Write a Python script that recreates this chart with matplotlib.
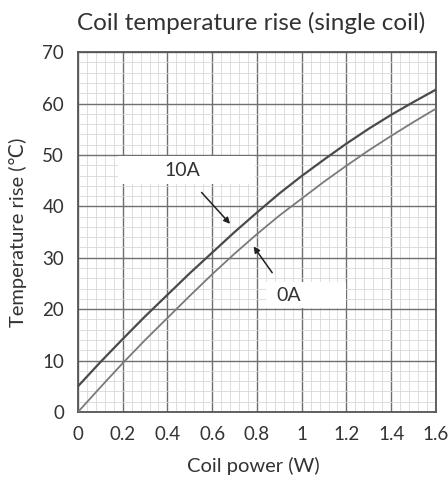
import numpy as np
import matplotlib.pyplot as plt
from matplotlib.patches import Rectangle
from matplotlib.ticker import MultipleLocator

# values
coil_power = [0, 0.1, 0.2, 0.3, 0.4, 0.5, 0.6, 0.7, 0.8, 0.9, 1.0, 1.1, 1.2, 1.3, 1.4, 1.5, 1.6]
rise_10a = [5.0, 9.7, 14.2, 18.6, 22.8, 27.0, 31.0, 35.0, 38.8, 42.5, 45.9, 49.1, 52.2, 55.1, 57.8, 60.3, 62.7]
rise_0a = [0.0, 4.8, 9.5, 14.0, 18.3, 22.6, 26.8, 30.8, 34.6, 38.2, 41.5, 44.8, 47.9, 50.9, 53.7, 56.4, 59.0]

x_ticks = [0, 0.2, 0.4, 0.6, 0.8, 1.0, 1.2, 1.4, 1.6]
x_tick_labels = ['0', '0.2', '0.4', '0.6', '0.8', '1', '1.2', '1.4', '1.6']
y_ticks = [0, 10, 20, 30, 40, 50, 60, 70]

plt.rcParams['font.family'] = ['Lato', 'DejaVu Sans']
txt = '#333333'

fig = plt.figure(figsize=(4.48, 4.78), dpi=100)
ax = fig.add_axes([0.174, 0.138, 0.799, 0.753])

ax.set_xlim(0, 1.6)
ax.set_ylim(0, 70)
ax.set_xticks(x_ticks)
ax.set_xticklabels(x_tick_labels)
ax.set_yticks(y_ticks)
ax.xaxis.set_minor_locator(MultipleLocator(0.04))
ax.yaxis.set_minor_locator(MultipleLocator(2))
ax.grid(which='minor', color='#d8d8d8', linewidth=0.6)
ax.grid(which='major', color='#707070', linewidth=1.0)
ax.set_axisbelow(True)
ax.tick_params(which='both', length=0, labelsize=13.5, labelcolor=txt)
ax.tick_params(axis='x', pad=10)
ax.tick_params(axis='y', pad=10)
for s in ax.spines.values():
    s.set_color('#555555')
    s.set_linewidth(1.3)

ax.plot(coil_power, rise_10a, color='#4a4a4a', linewidth=1.6, zorder=3)
ax.plot(coil_power, rise_0a, color='#7a7a7a', linewidth=1.3, zorder=3)

# white label boxes
ax.add_patch(Rectangle((0.18, 44.4), 0.61, 5.3, facecolor='white', edgecolor='none', zorder=2))
ax.add_patch(Rectangle((0.84, 20.2), 0.36, 5.1, facecolor='white', edgecolor='none', zorder=2))

ax.annotate('10A', xy=(0.68, 36.6), xytext=(0.465, 46.9), ha='center', va='center',
            fontsize=14, color=txt, zorder=4,
            arrowprops=dict(arrowstyle='-|>', color='#222222', lw=1.1, mutation_scale=9,
                            shrinkA=10, shrinkB=0))
ax.annotate('0A', xy=(0.785, 32.2), xytext=(0.94, 22.7), ha='center', va='center',
            fontsize=14, color=txt, zorder=4,
            arrowprops=dict(arrowstyle='-|>', color='#222222', lw=1.1, mutation_scale=9,
                            shrinkA=10, shrinkB=0))

fig.text(0.56, 0.953, 'Coil temperature rise (single coil)', ha='center', va='center',
         fontsize=17.5, color=txt)
fig.text(0.565, 0.026, 'Coil power (W)', ha='center', va='center', fontsize=14.5, color=txt)
fig.text(0.04, 0.514, 'Temperature rise (℃)', ha='center', va='center', rotation=90,
         fontsize=14.5, color=txt)

fig.savefig('out.png', dpi=100)
